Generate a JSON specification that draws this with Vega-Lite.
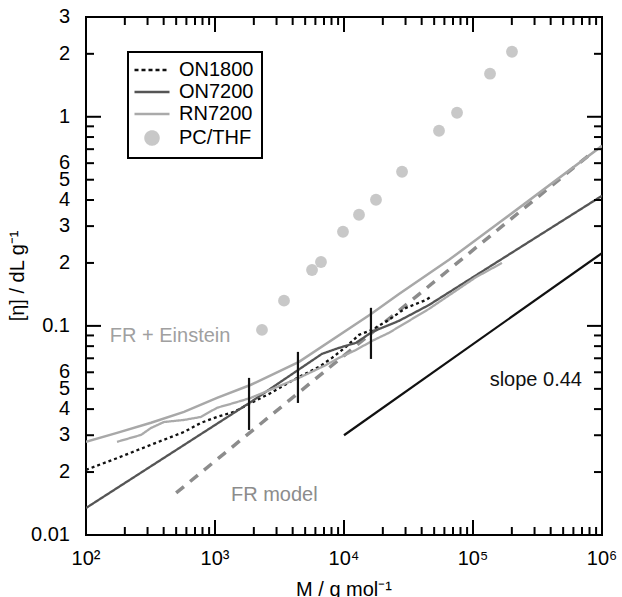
{
  "$schema": "https://vega.github.io/schema/vega-lite/v6.json",
  "width": 516,
  "height": 518,
  "padding": {"left": 8, "top": 7, "right": 5, "bottom": 0},
  "background": "white",
  "config": {
    "font": "Liberation Sans",
    "view": {"stroke": "black", "strokeWidth": 2}
  },
  "datasets": {
    "xminor": [{"v": 200}, {"v": 300}, {"v": 400}, {"v": 500}, {"v": 600}, {"v": 700}, {"v": 800}, {"v": 900},
               {"v": 2000}, {"v": 3000}, {"v": 4000}, {"v": 5000}, {"v": 6000}, {"v": 7000}, {"v": 8000}, {"v": 9000},
               {"v": 20000}, {"v": 30000}, {"v": 40000}, {"v": 50000}, {"v": 60000}, {"v": 70000}, {"v": 80000}, {"v": 90000},
               {"v": 200000}, {"v": 300000}, {"v": 400000}, {"v": 500000}, {"v": 600000}, {"v": 700000}, {"v": 800000}, {"v": 900000}],
    "xmajor": [{"v": 1000}, {"v": 10000}, {"v": 100000}],
    "yminor": [{"v": 0.02}, {"v": 0.03}, {"v": 0.04}, {"v": 0.05}, {"v": 0.06}, {"v": 0.07}, {"v": 0.08}, {"v": 0.09},
               {"v": 0.2}, {"v": 0.3}, {"v": 0.4}, {"v": 0.5}, {"v": 0.6}, {"v": 0.7}, {"v": 0.8}, {"v": 0.9}, {"v": 2}],
    "ymajor": [{"v": 0.1}, {"v": 1}],
    "xlabels": [{"v": 100, "t": "10²"}, {"v": 1000, "t": "10³"}, {"v": 10000, "t": "10⁴"}, {"v": 100000, "t": "10⁵"}, {"v": 1000000, "t": "10⁶"}],
    "ylabels": [{"v": 0.01, "t": "0.01"}, {"v": 0.02, "t": "2"}, {"v": 0.03, "t": "3"}, {"v": 0.04, "t": "4"}, {"v": 0.05, "t": "5"}, {"v": 0.06, "t": "6"},
                {"v": 0.1, "t": "0.1"}, {"v": 0.2, "t": "2"}, {"v": 0.3, "t": "3"}, {"v": 0.4, "t": "4"}, {"v": 0.5, "t": "5"}, {"v": 0.6, "t": "6"},
                {"v": 1, "t": "1"}, {"v": 2, "t": "2"}, {"v": 3, "t": "3"}],
    "lines": [
      {"series": "ON1800", "M": 100, "eta": 0.0205},
      {"series": "ON1800", "M": 174, "eta": 0.0233},
      {"series": "ON1800", "M": 319, "eta": 0.027},
      {"series": "ON1800", "M": 575, "eta": 0.0311},
      {"series": "ON1800", "M": 779, "eta": 0.0344},
      {"series": "ON1800", "M": 1037, "eta": 0.0367},
      {"series": "ON1800", "M": 1404, "eta": 0.0388},
      {"series": "ON1800", "M": 1901, "eta": 0.0428},
      {"series": "ON1800", "M": 2622, "eta": 0.0473},
      {"series": "ON1800", "M": 4477, "eta": 0.057},
      {"series": "ON1800", "M": 6400, "eta": 0.0637},
      {"series": "ON1800", "M": 8070, "eta": 0.0703},
      {"series": "ON1800", "M": 10370, "eta": 0.0794},
      {"series": "ON1800", "M": 13070, "eta": 0.0906},
      {"series": "ON1800", "M": 16480, "eta": 0.0957},
      {"series": "ON1800", "M": 22330, "eta": 0.107},
      {"series": "ON1800", "M": 30260, "eta": 0.122},
      {"series": "ON1800", "M": 43220, "eta": 0.133},
      {"series": "ON1800", "M": 48100, "eta": 0.139},
      {"series": "ON7200", "M": 100, "eta": 0.01346},
      {"series": "ON7200", "M": 1901, "eta": 0.0433},
      {"series": "ON7200", "M": 6750, "eta": 0.0735},
      {"series": "ON7200", "M": 9142, "eta": 0.0785},
      {"series": "ON7200", "M": 12390, "eta": 0.083},
      {"series": "ON7200", "M": 16480, "eta": 0.0935},
      {"series": "ON7200", "M": 26690, "eta": 0.1057},
      {"series": "ON7200", "M": 45600, "eta": 0.1259},
      {"series": "ON7200", "M": 1000000, "eta": 0.419},
      {"series": "RN7200", "M": 174, "eta": 0.0279},
      {"series": "RN7200", "M": 267, "eta": 0.0301},
      {"series": "RN7200", "M": 319, "eta": 0.0325},
      {"series": "RN7200", "M": 402, "eta": 0.0347},
      {"series": "RN7200", "M": 575, "eta": 0.0355},
      {"series": "RN7200", "M": 779, "eta": 0.0367},
      {"series": "RN7200", "M": 1037, "eta": 0.0406},
      {"series": "RN7200", "M": 1404, "eta": 0.0428},
      {"series": "RN7200", "M": 1901, "eta": 0.0453},
      {"series": "RN7200", "M": 4477, "eta": 0.0564},
      {"series": "RN7200", "M": 7250, "eta": 0.065},
      {"series": "RN7200", "M": 9142, "eta": 0.0703},
      {"series": "RN7200", "M": 12390, "eta": 0.0767},
      {"series": "RN7200", "M": 16480, "eta": 0.0847},
      {"series": "RN7200", "M": 22330, "eta": 0.0927},
      {"series": "RN7200", "M": 45600, "eta": 0.1206},
      {"series": "RN7200", "M": 105400, "eta": 0.171},
      {"series": "RN7200", "M": 167800, "eta": 0.2}
    ],
    "einstein": [
      {"M": 100, "eta": 0.0279},
      {"M": 174, "eta": 0.0308},
      {"M": 319, "eta": 0.0344},
      {"M": 575, "eta": 0.0388},
      {"M": 1037, "eta": 0.0453},
      {"M": 1901, "eta": 0.0523},
      {"M": 4477, "eta": 0.0673},
      {"M": 16200, "eta": 0.114},
      {"M": 26690, "eta": 0.142},
      {"M": 65200, "eta": 0.207},
      {"M": 159100, "eta": 0.311},
      {"M": 1000000, "eta": 0.726}
    ],
    "frmodel": [
      {"M": 500, "eta": 0.0159},
      {"M": 836000, "eta": 0.673}
    ],
    "slope": [
      {"M": 10000, "eta": 0.03},
      {"M": 1000000, "eta": 0.223}
    ],
    "pc": [
      {"M": 2313, "eta": 0.0957},
      {"M": 3427, "eta": 0.132},
      {"M": 5650, "eta": 0.185},
      {"M": 6632, "eta": 0.202},
      {"M": 9820, "eta": 0.282},
      {"M": 13070, "eta": 0.34},
      {"M": 17700, "eta": 0.401},
      {"M": 28180, "eta": 0.546},
      {"M": 54500, "eta": 0.857},
      {"M": 75200, "eta": 1.045},
      {"M": 135500, "eta": 1.607},
      {"M": 200500, "eta": 2.047}
    ],
    "bars": [
      {"M": 1836, "lo": 0.0318, "hi": 0.0564},
      {"M": 4395, "lo": 0.0428, "hi": 0.0751},
      {"M": 16180, "lo": 0.0695, "hi": 0.122}
    ],
    "notes": [
      {"M": 153, "eta": 0.0895, "text": "FR + Einstein", "kind": "a"},
      {"M": 1330, "eta": 0.0155, "text": "FR model", "kind": "b"},
      {"M": 134600, "eta": 0.0552, "text": "slope 0.44", "kind": "c"}
    ]
  },
  "layer": [
    {
      "data": {"name": "frmodel"},
      "mark": {"type": "line", "color": "#8c8c8c", "strokeWidth": 3.5, "strokeDash": [10, 8], "clip": true},
      "encoding": {
        "x": {"field": "M", "type": "quantitative", "scale": {"type": "log", "domain": [100, 1000000], "nice": false}, "axis": null},
        "y": {"field": "eta", "type": "quantitative", "scale": {"type": "log", "domain": [0.01, 3], "nice": false}, "axis": null}
      }
    },
    {
      "data": {"name": "einstein"},
      "mark": {"type": "line", "color": "#a8a8a8", "strokeWidth": 2.5, "clip": true},
      "encoding": {
        "x": {"field": "M", "type": "quantitative", "axis": null},
        "y": {"field": "eta", "type": "quantitative", "axis": null}
      }
    },
    {
      "data": {"name": "lines"},
      "mark": {"type": "line", "strokeWidth": 2.3, "clip": true},
      "encoding": {
        "x": {"field": "M", "type": "quantitative", "axis": null},
        "y": {"field": "eta", "type": "quantitative", "axis": null},
        "color": {
          "field": "series", "type": "nominal",
          "scale": {"domain": ["ON1800", "ON7200", "RN7200", "PC/THF"], "range": ["#111111", "#555555", "#aaaaaa", "#c8c8c8"]},
          "legend": {
            "values": ["ON1800", "ON7200", "RN7200", "PC/THF"],
            "title": null, "orient": "none", "legendX": 42, "legendY": 35,
            "labelFontSize": 20, "labelColor": "black", "labelFont": "Liberation Sans",
            "symbolSize": 100, "symbolType": "M-2.3,0H4.7", "labelOffset": 23,
            "rowPadding": 2, "padding": 8, "strokeColor": "black", "fillColor": "white",
            "encode": {
              "legend": {"update": {"strokeWidth": {"value": 2}}},
              "symbols": {"update": {
                "shape": {"signal": "datum.value === 'PC/THF' ? 'M-0.1,0A1.3,1.3 0 1,1 2.5,0A1.3,1.3 0 1,1 -0.1,0Z' : 'M-2.3,0H4.7'"},
                "fill": {"signal": "datum.value === 'PC/THF' ? '#c8c8c8' : 'transparent'"},
                "stroke": {"signal": "datum.value === 'ON1800' ? '#111111' : datum.value === 'ON7200' ? '#555555' : datum.value === 'RN7200' ? '#aaaaaa' : 'transparent'"},
                "strokeDash": {"signal": "datum.value === 'ON1800' ? [4, 3] : [1, 0]"},
                "strokeWidth": {"value": 2.5},
                "opacity": {"value": 1}
              }}
            }
          }
        },
        "strokeDash": {
          "field": "series", "type": "nominal",
          "scale": {"domain": ["ON1800", "ON7200", "RN7200"], "range": [[3, 3], [1, 0], [1, 0]]},
          "legend": null
        }
      }
    },
    {
      "data": {"name": "slope"},
      "mark": {"type": "line", "color": "#111111", "strokeWidth": 2.2, "clip": true},
      "encoding": {
        "x": {"field": "M", "type": "quantitative", "axis": null},
        "y": {"field": "eta", "type": "quantitative", "axis": null}
      }
    },
    {
      "data": {"name": "bars"},
      "mark": {"type": "rule", "color": "#111111", "strokeWidth": 2.2},
      "encoding": {
        "x": {"field": "M", "type": "quantitative", "axis": null},
        "y": {"field": "lo", "type": "quantitative", "axis": null},
        "y2": {"field": "hi"}
      }
    },
    {
      "data": {"name": "xminor"},
      "mark": {"type": "rule", "color": "black", "strokeWidth": 2, "y2Offset": -8},
      "encoding": {
        "x": {"field": "v", "type": "quantitative", "axis": null},
        "y": {"datum": 0.01, "type": "quantitative", "axis": null},
        "y2": {"datum": 0.01}
      }
    },
    {
      "data": {"name": "xminor"},
      "mark": {"type": "rule", "color": "black", "strokeWidth": 2, "y2Offset": 8},
      "encoding": {
        "x": {"field": "v", "type": "quantitative", "axis": null},
        "y": {"datum": 3, "type": "quantitative", "axis": null},
        "y2": {"datum": 3}
      }
    },
    {
      "data": {"name": "xmajor"},
      "mark": {"type": "rule", "color": "black", "strokeWidth": 2, "y2Offset": -15},
      "encoding": {
        "x": {"field": "v", "type": "quantitative", "axis": null},
        "y": {"datum": 0.01, "type": "quantitative", "axis": null},
        "y2": {"datum": 0.01}
      }
    },
    {
      "data": {"name": "xmajor"},
      "mark": {"type": "rule", "color": "black", "strokeWidth": 2, "y2Offset": 15},
      "encoding": {
        "x": {"field": "v", "type": "quantitative", "axis": null},
        "y": {"datum": 3, "type": "quantitative", "axis": null},
        "y2": {"datum": 3}
      }
    },
    {
      "data": {"name": "yminor"},
      "mark": {"type": "rule", "color": "black", "strokeWidth": 2, "x2Offset": 8},
      "encoding": {
        "y": {"field": "v", "type": "quantitative", "axis": null},
        "x": {"datum": 100, "type": "quantitative", "axis": null},
        "x2": {"datum": 100}
      }
    },
    {
      "data": {"name": "yminor"},
      "mark": {"type": "rule", "color": "black", "strokeWidth": 2, "x2Offset": -8},
      "encoding": {
        "y": {"field": "v", "type": "quantitative", "axis": null},
        "x": {"datum": 1000000, "type": "quantitative", "axis": null},
        "x2": {"datum": 1000000}
      }
    },
    {
      "data": {"name": "ymajor"},
      "mark": {"type": "rule", "color": "black", "strokeWidth": 2, "x2Offset": 15},
      "encoding": {
        "y": {"field": "v", "type": "quantitative", "axis": null},
        "x": {"datum": 100, "type": "quantitative", "axis": null},
        "x2": {"datum": 100}
      }
    },
    {
      "data": {"name": "ymajor"},
      "mark": {"type": "rule", "color": "black", "strokeWidth": 2, "x2Offset": -15},
      "encoding": {
        "y": {"field": "v", "type": "quantitative", "axis": null},
        "x": {"datum": 1000000, "type": "quantitative", "axis": null},
        "x2": {"datum": 1000000}
      }
    },
    {
      "data": {"name": "pc"},
      "mark": {"type": "circle", "color": "#c8c8c8", "opacity": 1, "size": 140},
      "encoding": {
        "x": {"field": "M", "type": "quantitative", "axis": null},
        "y": {"field": "eta", "type": "quantitative", "axis": null}
      }
    },
    {
      "data": {"name": "notes"},
      "mark": {"type": "text", "align": "left", "baseline": "middle", "fontSize": 20, "font": "Liberation Sans"},
      "encoding": {
        "x": {"field": "M", "type": "quantitative", "axis": null},
        "y": {"field": "eta", "type": "quantitative", "axis": null},
        "text": {"field": "text"},
        "color": {"field": "kind", "type": "nominal", "scale": {"domain": ["a", "b", "c"], "range": ["#a0a0a0", "#8c8c8c", "#111111"]}, "legend": null}
      }
    },
    {
      "data": {"name": "xlabels"},
      "mark": {"type": "text", "align": "center", "baseline": "middle", "fontSize": 20, "font": "Liberation Sans", "color": "black", "yOffset": 24},
      "encoding": {
        "x": {"field": "v", "type": "quantitative", "axis": null},
        "y": {"datum": 0.01, "type": "quantitative", "axis": null},
        "text": {"field": "t"}
      }
    },
    {
      "data": {"name": "ylabels"},
      "mark": {"type": "text", "align": "right", "baseline": "middle", "fontSize": 20, "font": "Liberation Sans", "color": "black", "xOffset": -16},
      "encoding": {
        "y": {"field": "v", "type": "quantitative", "axis": null},
        "x": {"datum": 100, "type": "quantitative", "axis": null},
        "text": {"field": "t"}
      }
    },
    {
      "data": {"values": [{"t": "M / g mol⁻¹"}]},
      "mark": {"type": "text", "align": "center", "baseline": "middle", "fontSize": 20, "font": "Liberation Sans", "color": "black", "yOffset": 55},
      "encoding": {
        "x": {"datum": 10000, "type": "quantitative", "axis": null},
        "y": {"datum": 0.01, "type": "quantitative", "axis": null},
        "text": {"field": "t"}
      }
    },
    {
      "data": {"values": [{"t": "[η] / dL g⁻¹"}]},
      "mark": {"type": "text", "align": "center", "baseline": "middle", "angle": 270, "fontSize": 20, "font": "Liberation Sans", "color": "black", "xOffset": -68},
      "encoding": {
        "x": {"datum": 100, "type": "quantitative", "axis": null},
        "y": {"datum": 0.1733, "type": "quantitative", "axis": null},
        "text": {"field": "t"}
      }
    }
  ],
  "resolve": {"scale": {"color": "independent"}}
}
